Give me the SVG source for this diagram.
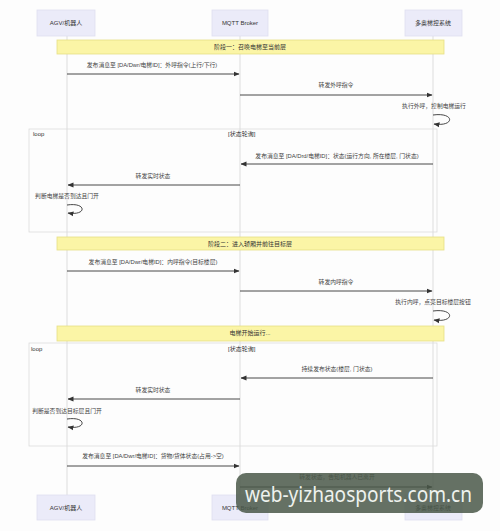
<svg xmlns="http://www.w3.org/2000/svg" width="500" height="531" viewBox="0 0 500 531">
<defs>
<marker id="ah" markerWidth="6" markerHeight="6" refX="5.5" refY="3" orient="auto" markerUnits="userSpaceOnUse">
<path d="M0,0.5 L6,3 L0,5.5 Z" fill="#333"/>
</marker>
<style>
.actor{fill:#ebebf9;stroke:#dedef0;stroke-width:0.8}
.atext{font-family:"Liberation Sans","Noto Sans CJK SC",sans-serif;font-size:6px;fill:#333;text-anchor:middle}
.life{stroke:#d9d9d9;stroke-width:0.9}
.note{fill:#fbf5a6;stroke:#e6de86;stroke-width:0.8}
.ntext{font-family:"Liberation Sans","Noto Sans CJK SC",sans-serif;font-size:6px;fill:#333;text-anchor:middle}
.msg{stroke:#333;stroke-width:0.9;fill:none;marker-end:url(#ah)}
.mtext{font-family:"Liberation Sans","Noto Sans CJK SC",sans-serif;font-size:5.8px;fill:#444;text-anchor:middle}
.loop{fill:none;stroke:#dcdcdc;stroke-width:0.8}
.ltext{font-family:"Liberation Sans","Noto Sans CJK SC",sans-serif;font-size:6px;fill:#333}
</style>
</defs>
<rect width="500" height="531" fill="#fdfdfd"/>

<g id="lifelines">
<line class="life" x1="67" y1="36" x2="67" y2="495"/>
<line class="life" x1="240" y1="36" x2="240" y2="495"/>
<line class="life" x1="433" y1="36" x2="433" y2="495"/>
</g>

<g id="agv-top"><rect class="actor" x="37" y="10" width="58" height="26"/><text class="atext" x="66" y="25">AGV/机器人</text></g>
<g id="mqtt-top"><rect class="actor" x="212" y="10" width="56" height="26"/><text class="atext" x="240" y="25">MQTT Broker</text></g>
<g id="elev-top"><rect class="actor" x="405" y="10" width="57" height="26"/><text class="atext" x="433" y="25">多奥梯控系统</text></g>

<g id="note1"><rect class="note" x="57" y="40" width="387" height="14"/><text class="ntext" x="250" y="49">阶段一：召唤电梯至当前层</text></g>

<g id="loop1"><rect class="loop" x="29" y="129" width="408" height="103"/>
<text class="ltext" x="33" y="136">loop</text>
<text class="ltext" x="228" y="136">[状态轮询]</text></g>

<g id="note2"><rect class="note" x="57" y="237" width="387" height="13"/><text class="ntext" x="250" y="246">阶段二：进入轿厢并前往目标层</text></g>

<g id="note3"><rect class="note" x="57" y="326" width="387" height="15"/><text class="ntext" x="250" y="335">电梯开始运行...</text></g>

<g id="loop2"><rect class="loop" x="29" y="343" width="408" height="103"/>
<text class="ltext" x="31" y="351">loop</text>
<text class="ltext" x="228" y="351">[状态轮询]</text></g>

<g id="connectors">
<text class="mtext" x="152" y="67">发布消息至 [DA/Dwr/电梯ID]：外呼指令(上行/下行)</text>
<line class="msg" x1="67" y1="74" x2="239" y2="74"/>
<text class="mtext" x="336" y="87">转发外呼指令</text>
<line class="msg" x1="240" y1="95" x2="432" y2="95"/>
<text class="mtext" x="434" y="108">执行外呼，控制电梯运行</text>
<path class="msg" d="M433,115 C455,112 455,127 434,124"/>

<text class="mtext" x="337" y="158">发布消息至 [DA/Drd/电梯ID]：状态(运行方向, 所在楼层, 门状态)</text>
<line class="msg" x1="433" y1="164" x2="241" y2="164"/>
<text class="mtext" x="153" y="178">转发实时状态</text>
<line class="msg" x1="240" y1="185" x2="68" y2="185"/>
<text class="mtext" x="67" y="198">判断电梯是否到达且门开</text>
<path class="msg" d="M67,205 C87,202 87,216 68,213"/>

<text class="mtext" x="153" y="264">发布消息至 [DA/Dwr/电梯ID]：内呼指令(目标楼层)</text>
<line class="msg" x1="67" y1="271" x2="239" y2="271"/>
<text class="mtext" x="336" y="284">转发内呼指令</text>
<line class="msg" x1="240" y1="291" x2="432" y2="291"/>
<text class="mtext" x="433" y="304">执行内呼，点亮目标楼层按钮</text>
<path class="msg" d="M433,311 C455,308 455,323 434,320"/>

<text class="mtext" x="337" y="371">持续发布状态(楼层, 门状态)</text>
<line class="msg" x1="433" y1="378" x2="241" y2="378"/>
<text class="mtext" x="153" y="392">转发实时状态</text>
<line class="msg" x1="240" y1="399" x2="68" y2="399"/>
<text class="mtext" x="67" y="413">判断是否到达目标层且门开</text>
<path class="msg" d="M67,419 C87,416 87,430 68,427"/>

<text class="mtext" x="153" y="458">发布消息至 [DA/Dwr/电梯ID]：货物/货体状态(占用-&gt;空)</text>
<line class="msg" x1="67" y1="466" x2="239" y2="466"/>
<text class="mtext" x="337" y="479">转发状态，告知机器人已离开</text>
<line class="msg" x1="240" y1="487" x2="432" y2="487"/>
</g>

<g id="agv-bottom"><rect class="actor" x="37" y="495" width="58" height="25"/><text class="atext" x="66" y="510">AGV/机器人</text></g>
<g id="mqtt-bottom"><rect class="actor" x="212" y="495" width="56" height="25"/><text class="atext" x="240" y="510">MQTT Broker</text></g>
<g id="elev-bottom"><rect class="actor" x="405" y="495" width="57" height="25"/><text class="atext" x="433" y="510">多奥梯控系统</text></g>

<g id="watermark">
<rect x="236" y="473" width="247" height="40" rx="10" fill="#4a5849" fill-opacity="0.85"/>
<text x="245" y="502" font-family="'Noto Sans',sans-serif" font-size="21" fill="#eef2ee" textLength="227" lengthAdjust="spacingAndGlyphs">web-yizhaosports.com.cn</text>
</g>
</svg>
